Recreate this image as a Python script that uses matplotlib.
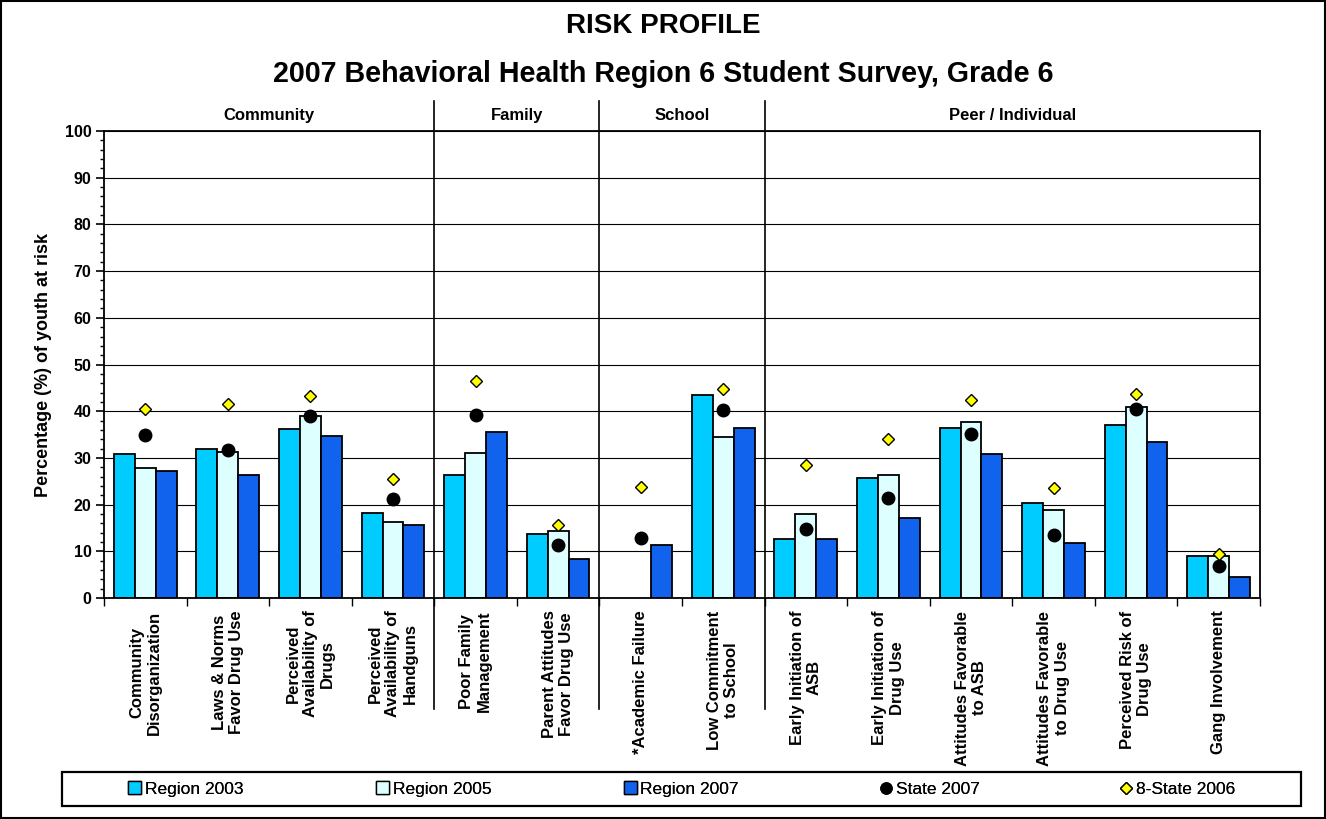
import numpy as np
import matplotlib.pyplot as plt
from matplotlib.patches import Rectangle
from matplotlib.lines import Line2D
from matplotlib.ticker import MultipleLocator

plt.rcParams['font.family'] = ['Liberation Sans', 'DejaVu Sans']

# Risk factors and their sections
categories = [
    "Community\nDisorganization", "Laws & Norms\nFavor Drug Use",
    "Perceived\nAvailability of\nDrugs", "Perceived\nAvailability of\nHandguns",
    "Poor Family\nManagement", "Parent Attitudes\nFavor Drug Use",
    "*Academic Failure", "Low Commitment\nto School",
    "Early Initiation of\nASB", "Early Initiation of\nDrug Use",
    "Attitudes Favorable\nto ASB", "Attitudes Favorable\nto Drug Use",
    "Perceived Risk of\nDrug Use", "Gang Involvement",
]
sections = ["Community", "Family", "School", "Peer / Individual"]
section_sizes = [4, 2, 2, 6]

region_2003 = [30.8, 32.0, 36.2, 18.3, 26.3, 13.7, np.nan, 43.5, 12.7, 25.6, 36.4, 20.3, 37.1, 9.1]
region_2005 = [27.8, 31.3, 38.9, 16.3, 31.1, 14.3, np.nan, 34.5, 18.1, 26.4, 37.8, 18.8, 41.0, 8.9]
region_2007 = [27.3, 26.4, 34.8, 15.7, 35.5, 8.4, 11.4, 36.5, 12.7, 17.1, 30.8, 11.8, 33.4, 4.6]
state_2007 = [34.9, 31.7, 39.0, 21.3, 39.3, 11.3, 12.9, 40.2, 14.7, 21.4, 35.2, 13.4, 40.5, 6.9]
eight_state_2006 = [40.5, 41.5, 43.3, 25.5, 46.5, 15.6, 23.8, 44.8, 28.5, 34.0, 42.5, 23.6, 43.6, 9.4]

c03, c05, c07 = "#00CCFF", "#DDFFFF", "#1163EE"

fig = plt.figure(figsize=(13.26, 8.19), dpi=100)
ax = fig.add_axes([0.0784, 0.2698, 0.8718, 0.5702])

x = np.arange(len(categories))
w = 0.253
for off, vals, col in [(-w, region_2003, c03), (0, region_2005, c05), (w, region_2007, c07)]:
    ax.bar(x + off, vals, width=w, color=col, edgecolor="black", linewidth=1.3, zorder=2)
ax.plot(x, state_2007, "o", color="black", markersize=9, zorder=4, linestyle="none")
ax.plot(x, eight_state_2006, "D", color="#FFFF00", markeredgecolor="black",
        markeredgewidth=1.0, markersize=6.5, zorder=5, linestyle="none")

ax.set_xlim(-0.5, len(categories) - 0.5)
ax.set_ylim(0, 100)
ax.yaxis.set_major_locator(MultipleLocator(10))
ax.yaxis.set_minor_locator(MultipleLocator(2))
ax.grid(axis="y", color="black", linewidth=0.8, zorder=0)
ax.set_axisbelow(True)
for s in ax.spines.values():
    s.set_linewidth(1.3)

ax.tick_params(axis="y", which="major", length=6, width=1.2, pad=3, labelsize=11.5)
ax.tick_params(axis="y", which="minor", length=3, width=1.0)
for lab in ax.get_yticklabels():
    lab.set_fontweight("bold")

ax.set_xticks(x)
ax.set_xticklabels(categories, rotation=90, fontsize=12, fontweight="bold",
                   va="top", ha="center", multialignment="center")
ax.set_xticks(np.arange(len(categories) + 1) - 0.5, minor=True)
ax.tick_params(axis="x", which="major", length=0, pad=9)
ax.tick_params(axis="x", which="minor", length=6, width=1.0)

ax.set_ylabel("Percentage (%) of youth at risk", fontsize=13, fontweight="bold", labelpad=9)

# section dividers and labels
bounds = np.cumsum([0] + section_sizes) - 0.5
trans = ax.get_xaxis_transform()
for b in bounds[1:-1]:
    ax.plot([b, b], [-0.238, 1.064], color="black", linewidth=1.2, transform=trans, clip_on=False, zorder=6)
for name, a, b in zip(sections, bounds[:-1], bounds[1:]):
    ax.text((a + b) / 2, 1.034, name, transform=trans, ha="center", va="center",
            fontsize=12, fontweight="bold")

fig.text(0.5, 1 - 26 / 819, "RISK PROFILE", ha="center", va="center", fontsize=20, fontweight="bold")
fig.text(0.5, 1 - 74 / 819, "2007 Behavioral Health Region 6 Student Survey, Grade 6",
         ha="center", va="center", fontsize=20.6, fontweight="bold")

# legend: frame plus one centred entry per equal-width column
handles = [
    Rectangle((0, 0), 1, 1, facecolor=c03, edgecolor="black", linewidth=1),
    Rectangle((0, 0), 1, 1, facecolor=c05, edgecolor="black", linewidth=1),
    Rectangle((0, 0), 1, 1, facecolor=c07, edgecolor="black", linewidth=1),
    Line2D([], [], marker="o", color="black", linestyle="none", markersize=8),
    Line2D([], [], marker="D", color="#FFFF00", markeredgecolor="black", linestyle="none", markersize=6),
]
labels = ["Region 2003", "Region 2005", "Region 2007", "State 2007", "8-State 2006"]
lx0, lx1, ly0, ly1 = 62 / 1326, 1301 / 1326, 1 - 806 / 819, 1 - 772 / 819
fig.patches.append(Rectangle((lx0, ly0), lx1 - lx0, ly1 - ly0, transform=fig.transFigure,
                             fill=False, edgecolor="black", linewidth=1.6))
colw = (lx1 - lx0) / len(labels)
for i, (h, lab) in enumerate(zip(handles, labels)):
    leg = fig.legend([h], [lab], loc="center",
                     bbox_to_anchor=(lx0 + colw * (i + 0.5), (ly0 + ly1) / 2),
                     fontsize=12.5, handlelength=0.75, handleheight=0.75, handletextpad=0.2,
                     borderaxespad=0, borderpad=0, frameon=False)
    fig.add_artist(leg)

fig.patches.append(Rectangle((0.001, 0.001), 0.998, 0.998, transform=fig.transFigure,
                             fill=False, edgecolor="black", linewidth=1.5))

fig.savefig("out.png", dpi=100)
